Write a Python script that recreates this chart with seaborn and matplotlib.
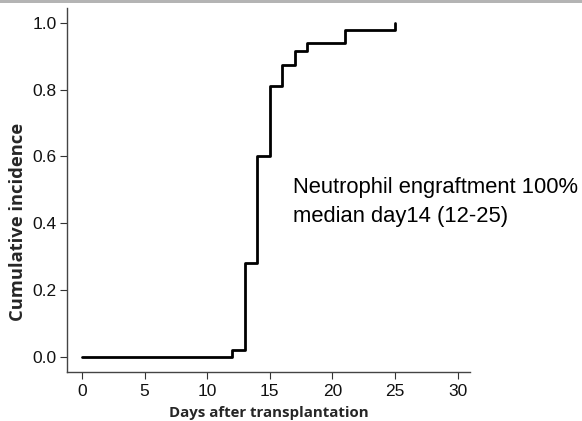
import matplotlib
matplotlib.use("Agg")
import matplotlib.pyplot as plt
import seaborn as sns
import pandas as pd

# --- Data ---
days = [0, 12, 13, 14, 15, 16, 17, 18, 21, 25]
incidence = [0.0, 0.02, 0.28, 0.60, 0.81, 0.875, 0.915, 0.94, 0.98, 1.0]
x_ticks = [0, 5, 10, 15, 20, 25, 30]
y_ticks = [0.0, 0.2, 0.4, 0.6, 0.8, 1.0]
note_lines = ["Neutrophil engraftment 100%", "median day14 (12-25)"]

df = pd.DataFrame({'Days': days, 'CI': incidence})

sns.set_style("ticks")
plt.rcParams['font.family'] = ['Liberation Sans', 'DejaVu Sans']

fig = plt.figure(figsize=(5.82, 4.21), dpi=100)
ax = fig.add_axes([0.115, 0.117, 0.693, 0.864])

sns.lineplot(data=df, x='Days', y='CI', drawstyle='steps-post',
             color='black', linewidth=2, ax=ax)

ax.set_xlim(-1.2, 31)
ax.set_ylim(-0.045, 1.045)
ax.set_xticks(x_ticks)
ax.set_yticks(y_ticks)
ax.set_yticklabels([f"{v:.1f}" for v in y_ticks])
ax.tick_params(labelsize=12.5, length=5, width=0.8,
               color='#333333', labelcolor='#111111')
ax.tick_params(axis='x', pad=4)
ax.tick_params(axis='y', pad=2.5)

for s in ['top', 'right']:
    ax.spines[s].set_visible(False)
for s in ['left', 'bottom']:
    ax.spines[s].set_color('#444444')
    ax.spines[s].set_linewidth(1)

ax.set_xlabel('Days after transplantation', fontsize=10.8, fontweight='bold',
              family=['Open Sans', 'DejaVu Sans'], labelpad=5)
ax.set_ylabel('Cumulative incidence', fontsize=13.2, fontweight='bold',
              family=['Open Sans', 'DejaVu Sans'])
ax.yaxis.set_label_coords(-0.099, 0.412)

ax.text(16.85, 0.491, note_lines[0], fontsize=15.8, ha='left', va='baseline', color='black')
ax.text(16.85, 0.404, note_lines[1], fontsize=15.8, ha='left', va='baseline', color='black')

# thin grey band along the top edge, as in the reference screenshot
fig.add_artist(plt.Rectangle((0, 1 - 2.5 / 421), 1, 2.5 / 421, transform=fig.transFigure,
                             color='#b4b4b4', lw=0))

fig.savefig('out.png', dpi=100)
